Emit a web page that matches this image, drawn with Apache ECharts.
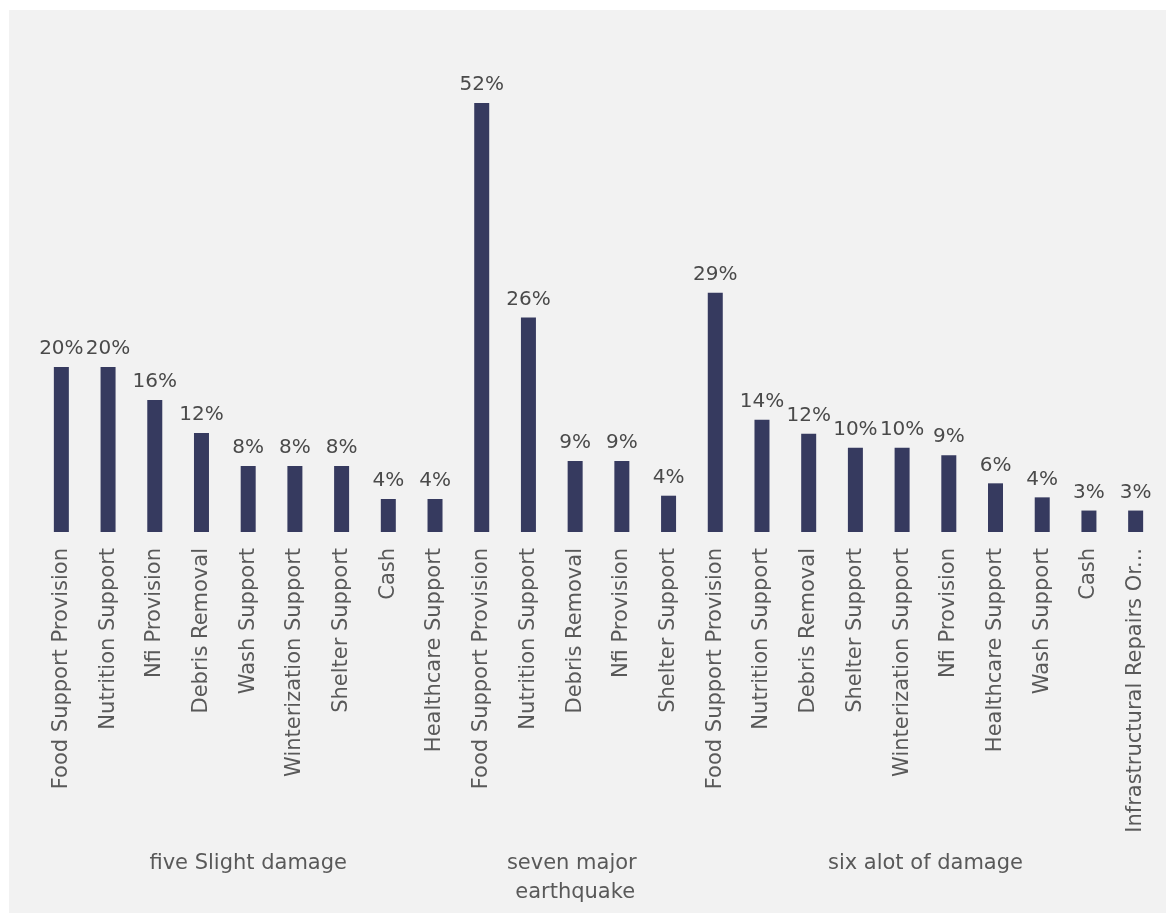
<!DOCTYPE html>
<html>
<head>
<meta charset="utf-8">
<script src="https://cdn.jsdelivr.net/npm/echarts@6/dist/echarts.min.js"></script>
<style>
  html, body { margin: 0; padding: 0; background: #ffffff; }
  #chart { position: absolute; left: 9px; top: 10px; width: 1157px; height: 903px; background: #f2f2f2; }
</style>
</head>
<body>
<div id="chart"></div>
<script>
const groupNames = ['five Slight damage', 'seven major earthquake', 'six alot of damage'];

const slightCategories = ['Food Support Provision', 'Nutrition Support', 'Nfi Provision', 'Debris Removal',
  'Wash Support', 'Winterization Support', 'Shelter Support', 'Cash', 'Healthcare Support'];
const slightValues = [20, 20, 16, 12, 8, 8, 8, 4, 4];

const majorCategories = ['Food Support Provision', 'Nutrition Support', 'Debris Removal', 'Nfi Provision', 'Shelter Support'];
const majorValues = [52, 26, 8.6, 8.6, 4.4];

const alotCategories = ['Food Support Provision', 'Nutrition Support', 'Debris Removal', 'Shelter Support',
  'Winterization Support', 'Nfi Provision', 'Healthcare Support', 'Wash Support', 'Cash', 'Infrastructural Repairs Or...'];
const alotValues = [29, 13.6, 11.9, 10.2, 10.2, 9.3, 5.9, 4.2, 2.6, 2.6];

const groupCats = [slightCategories, majorCategories, alotCategories];
const categories = [].concat(slightCategories, majorCategories, alotCategories);
const values = [].concat(slightValues, majorValues, alotValues);

// centre of each group in category units, for the second (group) axis
const groupCenters = [];
let start = 0;
groupCats.forEach(function (c) {
  groupCenters.push(start + c.length / 2);
  start += c.length;
});

const font = '"DejaVu Sans", sans-serif';

const chart = echarts.init(document.getElementById('chart'));

const option = {
  animation: false,
  grid: { left: 29, right: 7, top: 27, bottom: 381 },
  xAxis: [
    {
      type: 'category',
      data: categories,
      axisLine: { show: false },
      axisTick: { show: false },
      axisLabel: {
        rotate: 90,
        interval: 0,
        margin: 16,
        fontSize: 21,
        fontFamily: font,
        color: '#595959'
      }
    },
    {
      type: 'value',
      min: 0,
      max: categories.length,
      position: 'bottom',
      axisLine: { show: false },
      axisTick: { show: false },
      splitLine: { show: false },
      axisLabel: {
        customValues: groupCenters,
        margin: 317,
        fontSize: 21,
        lineHeight: 29,
        width: 235,
        overflow: 'break',
        fontFamily: font,
        color: '#595959',
        formatter: function (v) {
          const i = groupCenters.indexOf(v);
          return i >= 0 ? groupNames[i] : '';
        }
      }
    }
  ],
  yAxis: {
    type: 'value',
    min: 0,
    max: 60,
    show: false
  },
  series: [
    {
      type: 'bar',
      xAxisIndex: 0,
      data: values,
      barWidth: 15,
      itemStyle: { color: '#363a5f' },
      label: {
        show: true,
        position: 'top',
        distance: 8,
        fontSize: 20,
        fontFamily: font,
        color: '#4a4a4a',
        formatter: function (p) {
          return Math.round(p.value) + '%';
        }
      }
    }
  ]
};

chart.setOption(option);
</script>
</body>
</html>
